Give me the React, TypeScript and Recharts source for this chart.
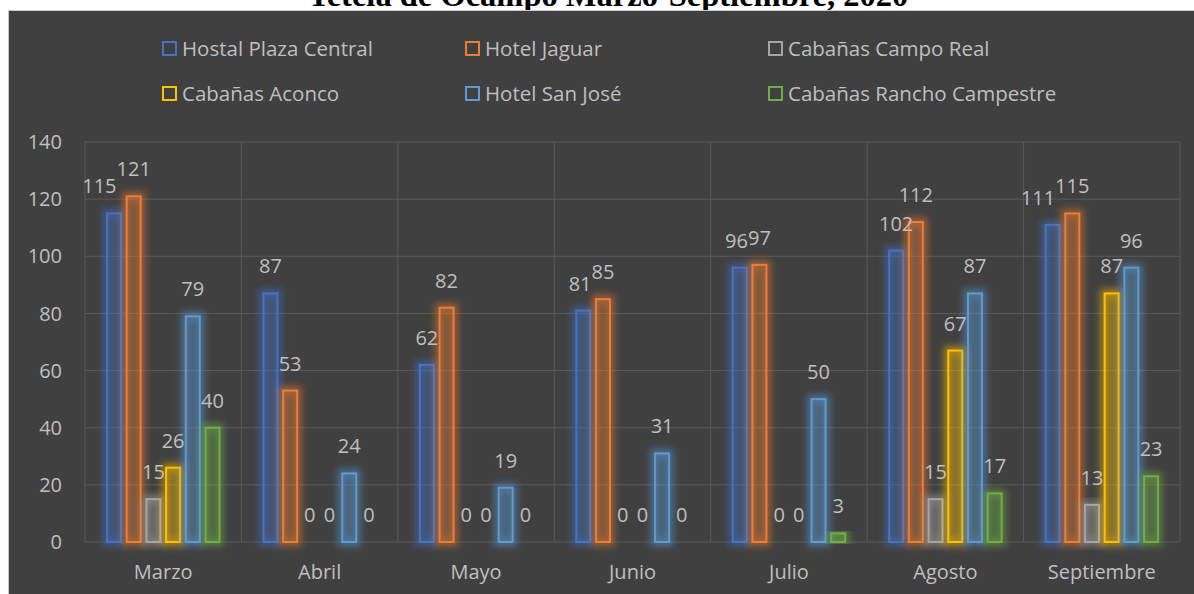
import React from 'react';
import { BarChart, Bar, XAxis, YAxis, CartesianGrid, LabelList } from 'recharts';

// Datos del gráfico
const months = ['Marzo', 'Abril', 'Mayo', 'Junio', 'Julio', 'Agosto', 'Septiembre'];
const hostalPlazaCentral = [115, 87, 62, 81, 96, 102, 111];
const hotelJaguar = [121, 53, 82, 85, 97, 112, 115];
const cabanasCampoReal = [15, 0, 0, 0, 0, 15, 13];
const cabanasAconco = [26, 0, 0, 0, 0, 67, 87];
const hotelSanJose = [79, 24, 19, 31, 50, 87, 96];
const cabanasRanchoCampestre = [40, 0, 0, 0, 3, 17, 23];
const yTicks = [0, 20, 40, 60, 80, 100, 120, 140];

const series = [
  { key: 'hpc', name: 'Hostal Plaza Central', color: '#4472C4', values: hostalPlazaCentral },
  { key: 'hj', name: 'Hotel Jaguar', color: '#ED7D31', values: hotelJaguar },
  { key: 'ccr', name: 'Cabañas Campo Real', color: '#A5A5A5', values: cabanasCampoReal },
  { key: 'ca', name: 'Cabañas Aconco', color: '#FFC000', values: cabanasAconco },
  { key: 'hsj', name: 'Hotel San José', color: '#5B9BD5', values: hotelSanJose },
  { key: 'crc', name: 'Cabañas Rancho Campestre', color: '#70AD47', values: cabanasRanchoCampestre },
];

const data = months.map((month, i) => {
  const row: Record<string, string | number> = { month };
  series.forEach(s => { row[s.key] = s.values[i]; });
  return row;
});

const FONT = '"Open Sans", sans-serif';
const TEXT = '#bfbfbf';
const LABEL_SIZE = 20;
const BAR_GAP = 5.7;
const DIGIT_W = 0.572 * LABEL_SIZE;

// barra con contorno y brillo
const GlowBar = (props: any) => {
  const { x, y, width, height, fill } = props;
  if (!height || height <= 0) return null;
  return (
    <g>
      <rect x={x} y={y} width={width} height={height} fill="none"
        stroke={fill} strokeWidth={9} strokeOpacity={0.5} filter="url(#barGlow)" />
      <rect x={x} y={y} width={width} height={height} fill={fill}
        fillOpacity={0.2} stroke={fill} strokeWidth={2} />
    </g>
  );
};

// etiqueta que se corre a la izquierda si choca con la de la barra siguiente (como Excel)
const makeLabel = (seriesIdx: number) => (props: any) => {
  const { x, y, width, value, index } = props;
  const cx = x + width / 2;
  let tx = cx;
  const next = series[seriesIdx + 1];
  if (next) {
    const nv = next.values[index];
    const w = String(value).length * DIGIT_W;
    const nw = String(nv).length * DIGIT_W;
    const ncx = cx + width + BAR_GAP;
    const overlapX = cx + w / 2 > ncx - nw / 2;
    if (overlapX && nv >= value && nv - value < 7) {
      tx = ncx - nw / 2 - w / 2;
    }
  }
  return (
    <text x={tx} y={y - 20} textAnchor="middle" fill={TEXT} fontSize={LABEL_SIZE} fontFamily={FONT}>
      {value}
    </text>
  );
};

const legendCols = [162, 465, 768];
const legendRows = [36, 81];

export default function App() {
  return (
    <div style={{ position: 'absolute', left: 0, top: 0, width: 1194, height: 594, background: '#fff', overflow: 'hidden' }}>
      <div style={{
        position: 'absolute', left: 308, top: -21, whiteSpace: 'nowrap',
        fontFamily: '"Liberation Serif", "Times New Roman", serif', fontWeight: 'bold',
        fontSize: 32.5, lineHeight: '32.5px', color: '#000',
      }}>
        Tetela de Ocampo Marzo-Septiembre, 2020
      </div>

      <div style={{
        position: 'absolute', left: 8, top: 10, width: 1190, height: 590,
        background: '#404040', borderLeft: '1px solid #c8c8c8', borderTop: '1px solid #c8c8c8',
      }}>
        <BarChart
          width={1186}
          height={584}
          data={data}
          margin={{ top: 131, right: 15, left: 16, bottom: 23 }}
          barSize={14}
          barGap={BAR_GAP}
        >
          <defs>
            <filter id="barGlow" x="-100%" y="-20%" width="300%" height="140%">
              <feGaussianBlur stdDeviation="3.5" />
            </filter>
          </defs>
          <CartesianGrid
            stroke="#595959"
            verticalCoordinatesGenerator={({ offset }: any) =>
              months.map((_, i) => offset.left + (i * offset.width) / months.length).concat(offset.left + offset.width)
            }
          />
          <XAxis
            dataKey="month"
            axisLine={false}
            tickLine={false}
            tickSize={0}
            tickMargin={23}
            interval={0}
            tick={{ fill: TEXT, fontSize: 20, fontFamily: FONT }}
          />
          <YAxis
            width={60}
            domain={[0, 140]}
            ticks={yTicks}
            axisLine={false}
            tickLine={false}
            tickSize={0}
            tickMargin={23}
            tick={{ fill: TEXT, fontSize: 20, fontFamily: FONT }}
          />
          {series.map((s, si) => (
            <Bar key={s.key} dataKey={s.key} name={s.name} fill={s.color} shape={GlowBar} isAnimationActive={false}>
              <LabelList dataKey={s.key} content={makeLabel(si)} />
            </Bar>
          ))}
        </BarChart>
      </div>

      {series.map((s, i) => (
        <div key={s.key} style={{
          position: 'absolute', left: legendCols[i % 3], top: legendRows[Math.floor(i / 3)],
          height: 24, display: 'flex', alignItems: 'center', whiteSpace: 'nowrap',
          fontFamily: FONT, fontSize: 20.5, lineHeight: '24px', color: TEXT,
        }}>
          <span style={{
            display: 'inline-block', width: 15, height: 15, boxSizing: 'border-box',
            border: `2px solid ${s.color}`, marginRight: 5,
          }} />
          {s.name}
        </div>
      ))}
    </div>
  );
}
